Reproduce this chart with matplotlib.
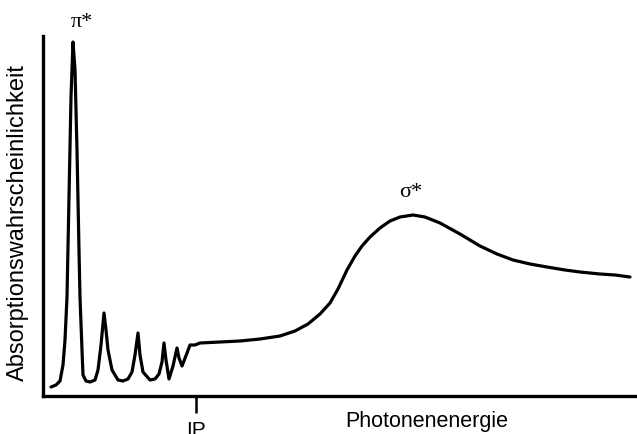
import numpy as np
import matplotlib
matplotlib.use("Agg")
import matplotlib.pyplot as plt

# Photonenenergie (willkuerliche Einheiten) und Absorption (willk. Einheiten)
energie = [8, 13, 17, 20, 22, 24, 26, 28, 30, 32,
           34, 36, 37, 39, 40, 43, 47, 52, 55, 58,
           61, 63, 65, 69, 75, 80, 85, 89, 92, 95,
           97, 100, 107, 112, 116, 119, 121, 123, 126, 130,
           134, 136, 139, 144, 147, 152, 157, 177, 197, 217,
           237, 252, 265, 277, 287, 295, 304, 312, 319, 327,
           337, 347, 357, 370, 382, 397, 417, 437, 454, 470,
           487, 504, 522, 537, 557, 572, 587]
absorption = [9, 11, 15, 31, 56, 99, 199, 299, 354, 326,
              246, 146, 99, 46, 21, 15, 14, 16, 26, 51,
              83, 66, 46, 26, 16, 15, 17, 24, 41, 63,
              41, 24, 16, 17, 22, 34, 53, 36, 17, 30,
              48, 38, 30, 43, 51, 51, 53, 54, 55, 57,
              60, 65, 72, 82, 93, 107, 126, 140, 150, 159,
              168, 175, 179, 181, 179, 173, 162, 150, 142, 136,
              132, 129, 126, 124, 122, 121, 119]
ip_pos = 153
pi_pos = (39, 374)
sigma_pos = (368, 204)

plt.rcParams['font.family'] = ['Liberation Sans', 'DejaVu Sans']

fig = plt.figure(figsize=(6.37, 4.34), dpi=100)
ax = fig.add_axes([43/637, 38/434, 594/637, 360/434])
ax.plot(energie, absorption, color="black", lw=2.3,
        solid_joinstyle="round", solid_capstyle="round")
ax.set_xlim(0, 594)
ax.set_ylim(0, 360)

for s in ["top", "right"]:
    ax.spines[s].set_visible(False)
for s in ["left", "bottom"]:
    ax.spines[s].set_linewidth(2.4)

ax.set_yticks([])
ax.set_xticks([ip_pos], ["IP"])
ax.tick_params(axis="x", length=12, width=1.8, pad=6, labelsize=15)

ax.set_xlabel("Photonenenergie", fontsize=15.5)
ax.xaxis.set_label_coords(0.646, -0.043)
ax.set_ylabel("Absorptionswahrscheinlichkeit", fontsize=17)
ax.yaxis.set_label_coords(-0.024, 0.483)

ax.text(*pi_pos, "π*", family="Liberation Serif", fontsize=16, ha="center", va="center")
ax.text(*sigma_pos, "σ*", family="Liberation Serif", fontsize=16, ha="center", va="center")

fig.savefig("out.png", dpi=100)
